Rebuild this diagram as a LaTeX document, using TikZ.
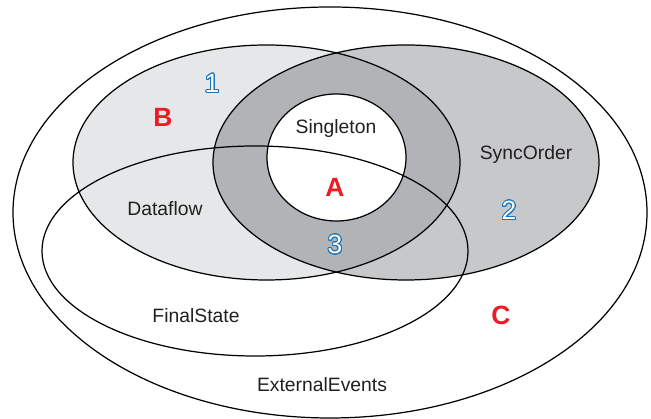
\documentclass[tikz,border=0pt]{standalone}
\usepackage{fontspec}
\setmainfont{Liberation Sans}
\usepackage{contour}
\contourlength{0.5pt}
\contournumber{32}

\definecolor{lightset}{HTML}{E6E7E8}
\definecolor{midset}{HTML}{C7C8CA}
\definecolor{darkset}{HTML}{B1B3B6}
\definecolor{markred}{HTML}{ED1C24}
\definecolor{markblue}{HTML}{1B75BB}
\definecolor{inktext}{HTML}{231F20}

\newcommand{\hollownum}[1]{\contour{markblue}{\textcolor{white}{#1}}}

\begin{document}
\begin{tikzpicture}[line width=0.7pt,
	setname/.style={text=inktext, font=\fontsize{11}{13}\selectfont},
	region/.style={text=markred, font=\fontsize{15}{17}\selectfont\bfseries},
	areanum/.style={font=\fontsize{15}{17}\selectfont}]
	\useasboundingbox (0,0) rectangle (13.02,8.38);

	% shaded sets
	\fill [lightset] (5.33,5.13) ellipse [x radius=3.87, y radius=2.35];
	\fill [midset] (8.12,5.13) ellipse [x radius=3.86, y radius=2.35];
	\begin{scope}
		\clip (5.33,5.13) ellipse [x radius=3.87, y radius=2.35];
		\fill [darkset] (8.12,5.13) ellipse [x radius=3.86, y radius=2.35];
	\end{scope}
	\fill [white] (6.73,5.23) ellipse [x radius=1.39, y radius=1.27];

	% outlines
	\draw (6.6,4.13) ellipse [x radius=6.34, y radius=4.11];
	\draw (5.33,5.13) ellipse [x radius=3.87, y radius=2.35];
	\draw (8.12,5.13) ellipse [x radius=3.86, y radius=2.35];
	\draw (6.73,5.23) ellipse [x radius=1.39, y radius=1.27];
	\draw (5.1,3.36) ellipse [x radius=4.26, y radius=2.1];

	\node (S) [setname] at (6.72,5.80) {Singleton};
	\node (O) [setname] at (10.52,5.28) {SyncOrder};
	\node (D) [setname] at (3.30,4.20) {Dataflow};
	\node (F) [setname] at (3.92,2.06) {FinalState};
	\node (E) [setname] at (6.44,0.68) {ExternalEvents};

	\node (a) [region] at (6.70,4.64) {A};
	\node (b) [region] at (3.26,6.04) {B};
	\node (c) [region] at (10.02,2.08) {C};

	\node (n1) [areanum] at (4.24,6.70) {\hollownum{1}};
	\node (n2) [areanum] at (10.18,4.16) {\hollownum{2}};
	\node (n3) [areanum] at (6.70,3.48) {\hollownum{3}};

\end{tikzpicture}
\end{document}
